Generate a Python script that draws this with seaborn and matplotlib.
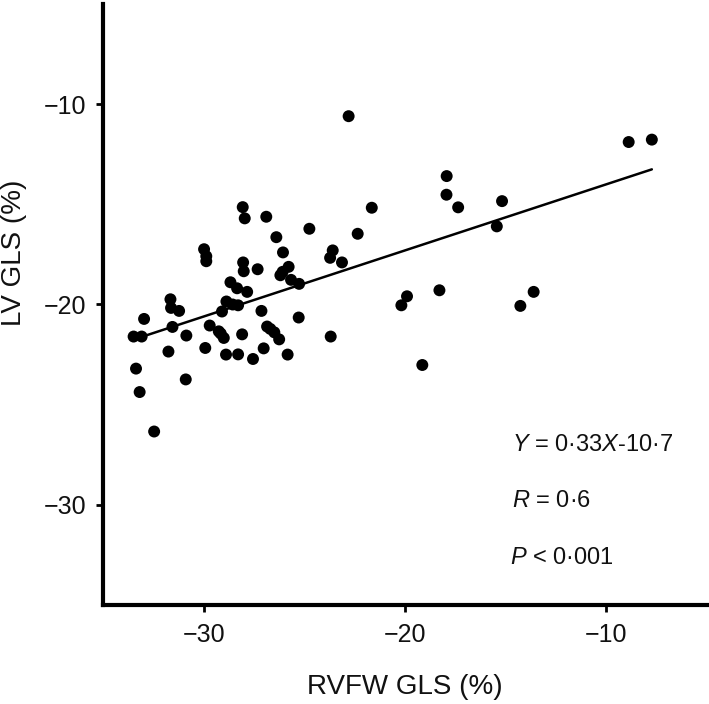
import matplotlib
matplotlib.use("Agg")
import matplotlib.pyplot as plt
import seaborn as sns
import numpy as np
import pandas as pd

# RVFW GLS (%) values (x) and LV GLS (%) values (y)
rvfw_gls = [
    -22.8, -28.06, -27.96, -26.89, -21.65, -24.75, -22.35, -26.39, -29.98, -29.87,
    -29.87, -26.06, -23.59, -23.72, -23.13, -28.04, -28.01, -27.32, -25.78, -26.08,
    -26.19, -25.66, -25.26, -28.67, -28.34, -27.84, -28.87, -28.56, -28.29, -29.09,
    -27.13, -25.28, -31.65, -31.62, -31.22, -32.96, -31.55, -33.48, -33.08, -30.86,
    -29.70, -29.25, -29.15, -29.00, -28.09, -26.85, -26.69, -26.49, -26.25, -23.69,
    -31.75, -29.92, -28.89, -28.29, -27.55, -27.02, -25.83, -33.36, -33.18, -30.89,
    -32.46, -20.18, -8.89, -7.74, -17.93, -17.94, -17.36, -15.18, -15.44, -19.90,
    -18.29, -13.61, -14.27, -19.14,
]
lv_gls = [
    -10.6, -15.14, -15.7, -15.62, -15.17, -16.22, -16.47, -16.64, -17.24, -17.59,
    -17.84, -17.4, -17.3, -17.67, -17.9, -17.9, -18.34, -18.24, -18.12, -18.37,
    -18.54, -18.77, -18.97, -18.89, -19.19, -19.37, -19.85, -20.0, -20.04, -20.35,
    -20.32, -20.65, -19.74, -20.17, -20.32, -20.72, -21.12, -21.6, -21.6, -21.55,
    -21.05, -21.34, -21.45, -21.67, -21.49, -21.1, -21.22, -21.39, -21.74, -21.6,
    -22.35, -22.17, -22.5, -22.49, -22.72, -22.19, -22.5, -23.2, -24.37, -23.74,
    -26.34, -20.04, -11.89, -11.77, -13.59, -14.52, -15.15, -14.84, -16.1, -19.59,
    -19.29, -19.37, -20.07, -23.02,
]

# Regression reported on the chart
slope = 0.33
intercept = -10.7

x_ticks = [-30, -20, -10]
y_ticks = [-10, -20, -30]
x_label = "RVFW GLS (%)"
y_label = "LV GLS (%)"
stats_lines = [r"$\it{Y}$ = 0·33$\it{X}$-10·7", r"$\it{R}$ = 0·6", r"$\it{P}$ < 0·001"]

sns.set_theme(style="ticks")
plt.rcParams["font.family"] = ["Liberation Sans", "DejaVu Sans"]
plt.rcParams["mathtext.fontset"] = "custom"
plt.rcParams["mathtext.rm"] = "Liberation Sans"
plt.rcParams["mathtext.it"] = "Liberation Sans:italic"

df = pd.DataFrame({"x": rvfw_gls, "y": lv_gls})
line_x = np.array([min(rvfw_gls), max(rvfw_gls)])
line_df = pd.DataFrame({"x": line_x, "y": slope * line_x + intercept})

fig = plt.figure(figsize=(7.09, 7.04), dpi=100)
ax = fig.add_axes([103 / 709, (704 - 605) / 704, (707 - 103) / 709, (605 - 4) / 704])

sns.lineplot(data=line_df, x="x", y="y", color="black", linewidth=1.8, ax=ax)
sns.scatterplot(data=df, x="x", y="y", color="black", s=74, edgecolor="none", ax=ax, zorder=3)

ax.set_xlim(-35, -5)
ax.set_ylim(-35, -5)
ax.set_xticks(x_ticks)
ax.set_yticks(y_ticks)
ax.tick_params(axis="both", labelsize=18, length=5, width=2, color="black", labelcolor="#111111")
ax.tick_params(axis="x", pad=8)
ax.tick_params(axis="y", pad=7)

for side in ["top", "right"]:
    ax.spines[side].set_visible(False)
for side in ["left", "bottom"]:
    ax.spines[side].set_linewidth(3)
    ax.spines[side].set_color("black")

ax.set_xlabel(x_label, fontsize=20, color="#111111")
ax.set_ylabel(y_label, fontsize=20, color="#111111")
ax.xaxis.set_label_coords((405 - 103) / 604, -(674 - 605) / 601)
ax.yaxis.set_label_coords(-(103 - 27) / 604, (605 - 253) / 601)

ys = [-26.99, -29.83, -32.67]
xs = [-14.67, -14.67, -14.8]
for t, xx, yy in zip(stats_lines, xs, ys):
    ax.text(xx, yy, t, fontsize=17, ha="left", va="center", color="#111111")

fig.savefig("out.png", dpi=100)
